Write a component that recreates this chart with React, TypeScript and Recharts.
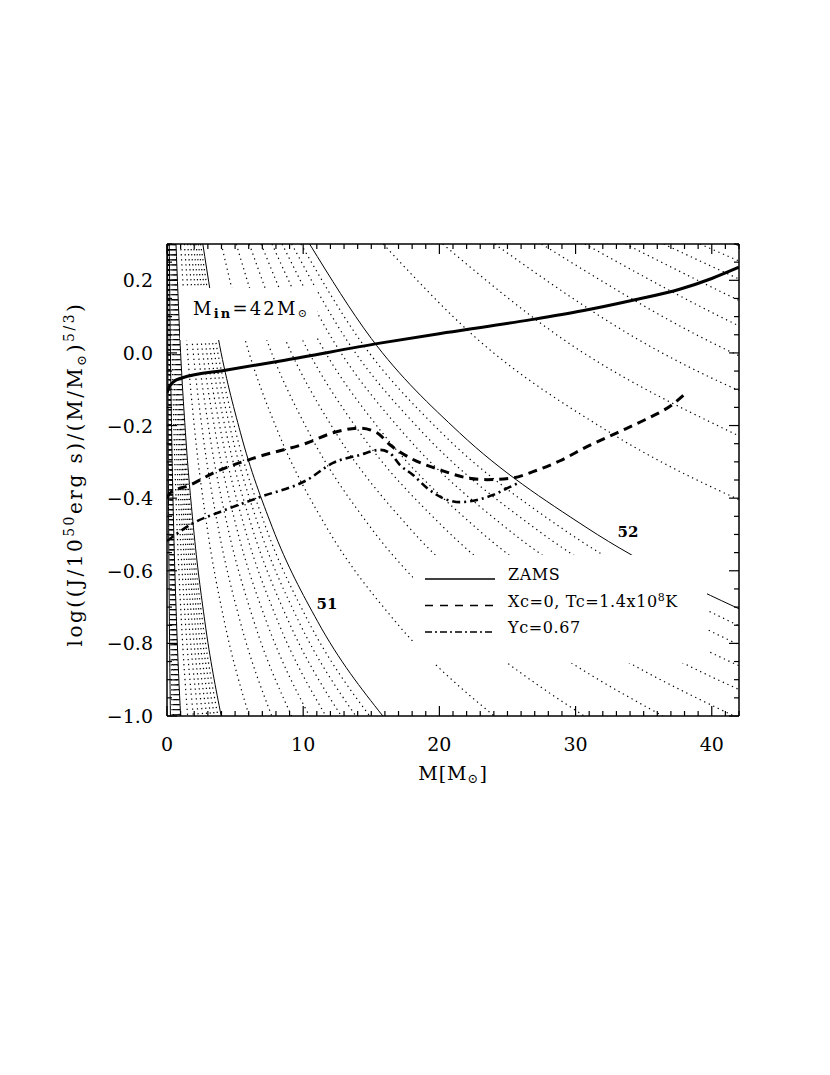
import { LineChart, Line, XAxis, YAxis, Label, Legend } from "recharts";

// y levels at which the J = n x 10^p contours are sampled
const Y_LEVELS = [0.3, 0.04, -0.22, -0.48, -0.74, -1.0];

// M where each contour crosses Y_LEVELS, rows n = 1..9
const CONTOURS_48 = [
  [0.0417, 0.0597, 0.0855, 0.1225, 0.1754, 0.2512],
  [0.0632, 0.0905, 0.1296, 0.1856, 0.2659, 0.3807],
  [0.0806, 0.1154, 0.1653, 0.2368, 0.3391, 0.4856],
  [0.0958, 0.1372, 0.1965, 0.2814, 0.403, 0.5771],
  [0.1095, 0.1568, 0.2246, 0.3217, 0.4607, 0.6598],
  [0.1222, 0.1749, 0.2506, 0.3588, 0.5139, 0.736],
  [0.134, 0.1919, 0.2748, 0.3936, 0.5637, 0.8074],
  [0.1452, 0.2079, 0.2978, 0.4265, 0.6108, 0.8747],
  [0.1558, 0.2231, 0.3196, 0.4577, 0.6555, 0.9387],
];
const CONTOURS_49 = [
  [0.166, 0.2377, 0.3404, 0.4875, 0.6983, 1.0],
  [0.2516, 0.3603, 0.516, 0.739, 1.0584, 1.5157],
  [0.3208, 0.4595, 0.6581, 0.9425, 1.3499, 1.9332],
  [0.3813, 0.5461, 0.7821, 1.1201, 1.6042, 2.2974],
  [0.4359, 0.6243, 0.8941, 1.2805, 1.834, 2.6265],
  [0.4863, 0.6965, 0.9975, 1.4286, 2.046, 2.9302],
  [0.5334, 0.7639, 1.0941, 1.567, 2.2443, 3.2141],
  [0.5779, 0.8277, 1.1854, 1.6977, 2.4314, 3.4822],
  [0.6202, 0.8883, 1.2722, 1.822, 2.6095, 3.7372],
];
const CONTOURS_50 = [
  [0.6607, 0.9462, 1.3552, 1.9409, 2.7798, 3.9811],
  [1.0014, 1.4342, 2.0541, 2.9419, 4.2134, 6.0342],
  [1.2772, 1.8293, 2.6199, 3.7522, 5.3738, 7.6961],
  [1.5179, 2.1739, 3.1135, 4.4591, 6.3863, 9.1461],
  [1.7353, 2.4853, 3.5595, 5.0979, 7.3012, 10.456],
  [1.9359, 2.7726, 3.971, 5.6872, 8.1452, 11.665],
  [2.1235, 3.0413, 4.3558, 6.2383, 8.9345, 12.796],
  [2.3007, 3.295, 4.7191, 6.7587, 9.6797, 13.863],
  [2.4691, 3.5363, 5.0647, 7.2536, 10.388, 14.878],
];
const CONTOURS_51 = [
  [2.6302, 3.767, 5.3952, 7.727, 11.066, 15.849],
  [3.9867, 5.7098, 8.1776, 11.712, 16.774, 24.023],
  [5.0847, 7.2824, 10.43, 14.938, 21.394, 30.639],
  [6.0428, 8.6544, 12.395, 17.752, 25.424, 36.411],
  [6.9084, 9.8942, 14.171, 20.295, 29.067, 41.628],
  [7.707, 11.038, 15.809, 22.641, 32.427, 46.44],
  [8.4539, 12.108, 17.341, 24.835, 35.569, 50.94],
  [9.159, 13.118, 18.787, 26.907, 38.536, 55.19],
  [9.8298, 14.078, 20.163, 28.877, 41.357, 59.231],
];
const CONTOURS_52 = [
  [10.471, 14.997, 21.479, 30.762, 44.057, 63.096],
  [15.871, 22.731, 32.556, 46.626, 66.778],
  [20.243, 28.992, 41.522, 59.468],
  [24.057, 34.454, 49.345, 70.672],
  [27.503, 39.39, 56.414, 80.797],
  [30.682, 43.943, 62.936, 90.14],
  [33.656, 48.202, 69.035],
  [36.463, 52.222, 74.79],
  [39.133, 56.046, 80.27],
];
const CONTOURS_53 = [[41.687, 59.705, 85.51]];

// evolution curves
const ZAMS_M = [0, 0.15, 0.5, 1.08, 4.39, 8.66, 15.64, 20.5, 26.65, 30.5, 34.2, 37.7, 40, 42];
const ZAMS_Y = [-0.11, -0.095, -0.079, -0.069, -0.047, -0.02, 0.027, 0.056, 0.091, 0.116, 0.145, 0.176, 0.205, 0.236];

const XC0_M = [0, 0.22, 1.69, 3.38, 6.61, 10.28, 12.19, 14.17, 15.42, 16.37, 17.84, 20.05, 22.03, 23.5, 25.41, 26.88, 28.86, 30.84, 33.04, 35.1, 37.08, 38.04];
const XC0_Y = [-0.4, -0.386, -0.364, -0.331, -0.287, -0.248, -0.22, -0.207, -0.22, -0.253, -0.289, -0.322, -0.344, -0.349, -0.344, -0.327, -0.297, -0.258, -0.22, -0.184, -0.143, -0.113];

const YC_M = [0, 1.91, 3.89, 6.83, 10.28, 12.19, 14.17, 15.64, 16.37, 17.11, 18.06, 19.09, 20.26, 21.51, 22.76, 23.94, 25.19, 25.92];
const YC_Y = [-0.518, -0.469, -0.438, -0.397, -0.35, -0.303, -0.281, -0.267, -0.276, -0.309, -0.336, -0.372, -0.4, -0.411, -0.405, -0.391, -0.369, -0.356];

const X_TICKS = Array.from({ length: 43 }, (_, i) => i);
const Y_TICKS = Array.from({ length: 27 }, (_, i) => Math.round((-1 + i * 0.05) * 100) / 100);

const LEGEND_ITEMS = [
  { label: "ZAMS", dash: undefined as string | undefined },
  { label: "Xc=0, Tc=1.4x10", sup: "8", after: "K", dash: "8 7" },
  { label: "Yc=0.67", dash: "7 3 2 3" },
];

const FONT = "'DejaVu Serif', serif";
const W = 830;
const H = 1075;
const PLOT = { left: 167, top: 244, right: 739, bottom: 716 };

const pts = (ms: number[], ys: number[]) => ms.map((m, i) => ({ m, y: ys[i] }));

const contours = [CONTOURS_48, CONTOURS_49, CONTOURS_50, CONTOURS_51, CONTOURS_52, CONTOURS_53].flatMap(
  (set, si) =>
    set.map((row, n) => ({
      key: `c${si}-${n}`,
      solid: n === 0,
      data: row.map((m, i) => ({ m, y: Y_LEVELS[i] })),
    }))
);

const fmtY = (v: number) => (v < 0 ? "\u2212" : "") + Math.abs(v).toFixed(1);
const isMajorY = (v: number) => Math.round(v * 100) % 20 === 0;

function BottomTick({ x, payload }: any) {
  const v = payload.value;
  const major = v % 10 === 0;
  const y = PLOT.bottom;
  return (
    <g>
      <line x1={x} y1={y} x2={x} y2={y - (major ? 10 : 5)} stroke="#000" strokeWidth={1.2} />
      {major && (
        <text x={x} y={y + 35} textAnchor="middle" fontFamily={FONT} fontSize={19} fill="#000">
          {v}
        </text>
      )}
    </g>
  );
}

function TopTick({ x, payload }: any) {
  const major = payload.value % 10 === 0;
  const y = PLOT.top;
  return <line x1={x} y1={y} x2={x} y2={y + (major ? 10 : 5)} stroke="#000" strokeWidth={1.2} />;
}

function LeftTick({ y, payload }: any) {
  const v = payload.value;
  const major = isMajorY(v);
  const x = PLOT.left;
  return (
    <g>
      <line x1={x} y1={y} x2={x + (major ? 10 : 5)} y2={y} stroke="#000" strokeWidth={1.2} />
      {major && (
        <text x={x - 14} y={y + 7} textAnchor="end" fontFamily={FONT} fontSize={19} fill="#000">
          {fmtY(v)}
        </text>
      )}
    </g>
  );
}

function RightTick({ y, payload }: any) {
  const major = isMajorY(payload.value);
  const x = PLOT.right;
  return <line x1={x} y1={y} x2={x - (major ? 10 : 5)} y2={y} stroke="#000" strokeWidth={1.2} />;
}

function XTitle() {
  return (
    <text x={(PLOT.left + PLOT.right) / 2} y={PLOT.bottom + 64} textAnchor="middle" fontFamily={FONT} fontSize={19} fill="#000" letterSpacing={1}>
      M[M
      <tspan fontSize={13} dy={3}>{"\u2299"}</tspan>
      <tspan dy={-3}>]</tspan>
    </text>
  );
}

function YTitle() {
  const cx = 82;
  const cy = 474;
  return (
    <text
      x={cx}
      y={cy}
      transform={`rotate(-90 ${cx} ${cy})`}
      textAnchor="middle"
      fontFamily={FONT}
      fontSize={20}
      letterSpacing={2.5}
      fill="#000"
    >
      log((J/10
      <tspan fontSize={14} dy={-8}>50</tspan>
      <tspan dy={8}>erg s)/(M/M</tspan>
      <tspan fontSize={13} dy={4}>{"\u2299"}</tspan>
      <tspan dy={-4}>)</tspan>
      <tspan fontSize={14} dy={-8}>5/3</tspan>
      <tspan dy={8}>)</tspan>
    </text>
  );
}

function LegendBox() {
  return (
    <svg width={294} height={108} style={{ display: "block", background: "#fff" }}>
      {LEGEND_ITEMS.map((it, i) => {
        const ly = 24 + i * 26.5;
        return (
          <g key={it.label}>
            <line x1={12} x2={82} y1={ly} y2={ly} stroke="#000" strokeWidth={1.4} strokeDasharray={it.dash} />
            <text x={95} y={ly + 1} fontFamily={FONT} fontSize={16} letterSpacing={0.6} fill="#000">
              {it.label}
              {it.sup && (
                <tspan fontSize={11} dy={-6}>
                  {it.sup}
                </tspan>
              )}
              {it.after && <tspan dy={6}>{it.after}</tspan>}
            </text>
          </g>
        );
      })}
    </svg>
  );
}

const axisLine = { stroke: "#000", strokeWidth: 1.5 };

export default function App() {
  return (
    <div style={{ position: "absolute", left: 0, top: 0, width: W, height: H, background: "#fff" }}>
      <LineChart
        width={W}
        height={H}
        margin={{ top: PLOT.top - 1, right: W - PLOT.right - 1, bottom: H - PLOT.bottom - 1, left: PLOT.left - 1 }}
      >
        <XAxis
          xAxisId="b"
          type="number"
          dataKey="m"
          domain={[0, 42]}
          allowDataOverflow
          ticks={X_TICKS}
          interval={0}
          height={1}
          tickSize={0}
          tickMargin={0}
          tickLine={false}
          axisLine={axisLine}
          tick={BottomTick}
        >
          <Label content={XTitle} />
        </XAxis>
        <XAxis
          xAxisId="t"
          orientation="top"
          type="number"
          dataKey="m"
          domain={[0, 42]}
          allowDataOverflow
          ticks={X_TICKS}
          interval={0}
          height={1}
          tickSize={0}
          tickMargin={0}
          tickLine={false}
          axisLine={axisLine}
          tick={TopTick}
        />
        <YAxis
          yAxisId="l"
          type="number"
          dataKey="y"
          domain={[-1, 0.3]}
          allowDataOverflow
          ticks={Y_TICKS}
          interval={0}
          width={1}
          tickSize={0}
          tickMargin={0}
          tickLine={false}
          axisLine={axisLine}
          tick={LeftTick}
        >
          <Label content={YTitle} />
        </YAxis>
        <YAxis
          yAxisId="r"
          orientation="right"
          type="number"
          dataKey="y"
          domain={[-1, 0.3]}
          allowDataOverflow
          ticks={Y_TICKS}
          interval={0}
          width={1}
          tickSize={0}
          tickMargin={0}
          tickLine={false}
          axisLine={axisLine}
          tick={RightTick}
        />

        {contours.map((c) => (
          <Line
            key={c.key}
            xAxisId="b"
            yAxisId="l"
            data={c.data}
            dataKey="y"
            type="monotone"
            stroke="#000"
            strokeWidth={c.solid ? 1 : 1.2}
            strokeDasharray={c.solid ? undefined : "1.3 3.7"}
            dot={false}
            activeDot={false}
            legendType="none"
            isAnimationActive={false}
          />
        ))}

        <Line
          xAxisId="b"
          yAxisId="l"
          data={pts(ZAMS_M, ZAMS_Y)}
          dataKey="y"
          type="monotone"
          stroke="#000"
          strokeWidth={3}
          dot={false}
          activeDot={false}
          isAnimationActive={false}
        />
        <Line
          xAxisId="b"
          yAxisId="l"
          data={pts(XC0_M, XC0_Y)}
          dataKey="y"
          type="monotone"
          stroke="#000"
          strokeWidth={3}
          strokeDasharray="9 6"
          dot={false}
          activeDot={false}
          isAnimationActive={false}
        />
        <Line
          xAxisId="b"
          yAxisId="l"
          data={pts(YC_M, YC_Y)}
          dataKey="y"
          type="monotone"
          stroke="#000"
          strokeWidth={2.6}
          strokeDasharray="8 4 2 4"
          dot={false}
          activeDot={false}
          isAnimationActive={false}
        />

        <Legend
          layout="horizontal"
          verticalAlign="middle"
          align="center"
          wrapperStyle={{ left: 413, top: 555, width: 294, height: 108 }}
          content={() => <LegendBox />}
        />
      </LineChart>

      <svg
        width={W}
        height={H}
        style={{ position: "absolute", left: 0, top: 0, pointerEvents: "none" }}
      >
        <rect x={180} y={288} width={137} height={52} fill="#fff" />
        <text x={193} y={315} fontFamily={FONT} fontSize={18} letterSpacing={2.2} fill="#000">
          M
          <tspan fontSize={13} fontWeight="bold" dy={3}>in</tspan>
          <tspan dy={-3}>=42M</tspan>
          <tspan fontSize={11} dy={2}>{"\u2299"}</tspan>
        </text>
        <text x={327} y={609} textAnchor="middle" fontFamily={FONT} fontSize={15} fontWeight="bold" fill="#000">
          51
        </text>
        <text x={628} y={537} textAnchor="middle" fontFamily={FONT} fontSize={15} fontWeight="bold" fill="#000">
          52
        </text>
      </svg>
    </div>
  );
}
